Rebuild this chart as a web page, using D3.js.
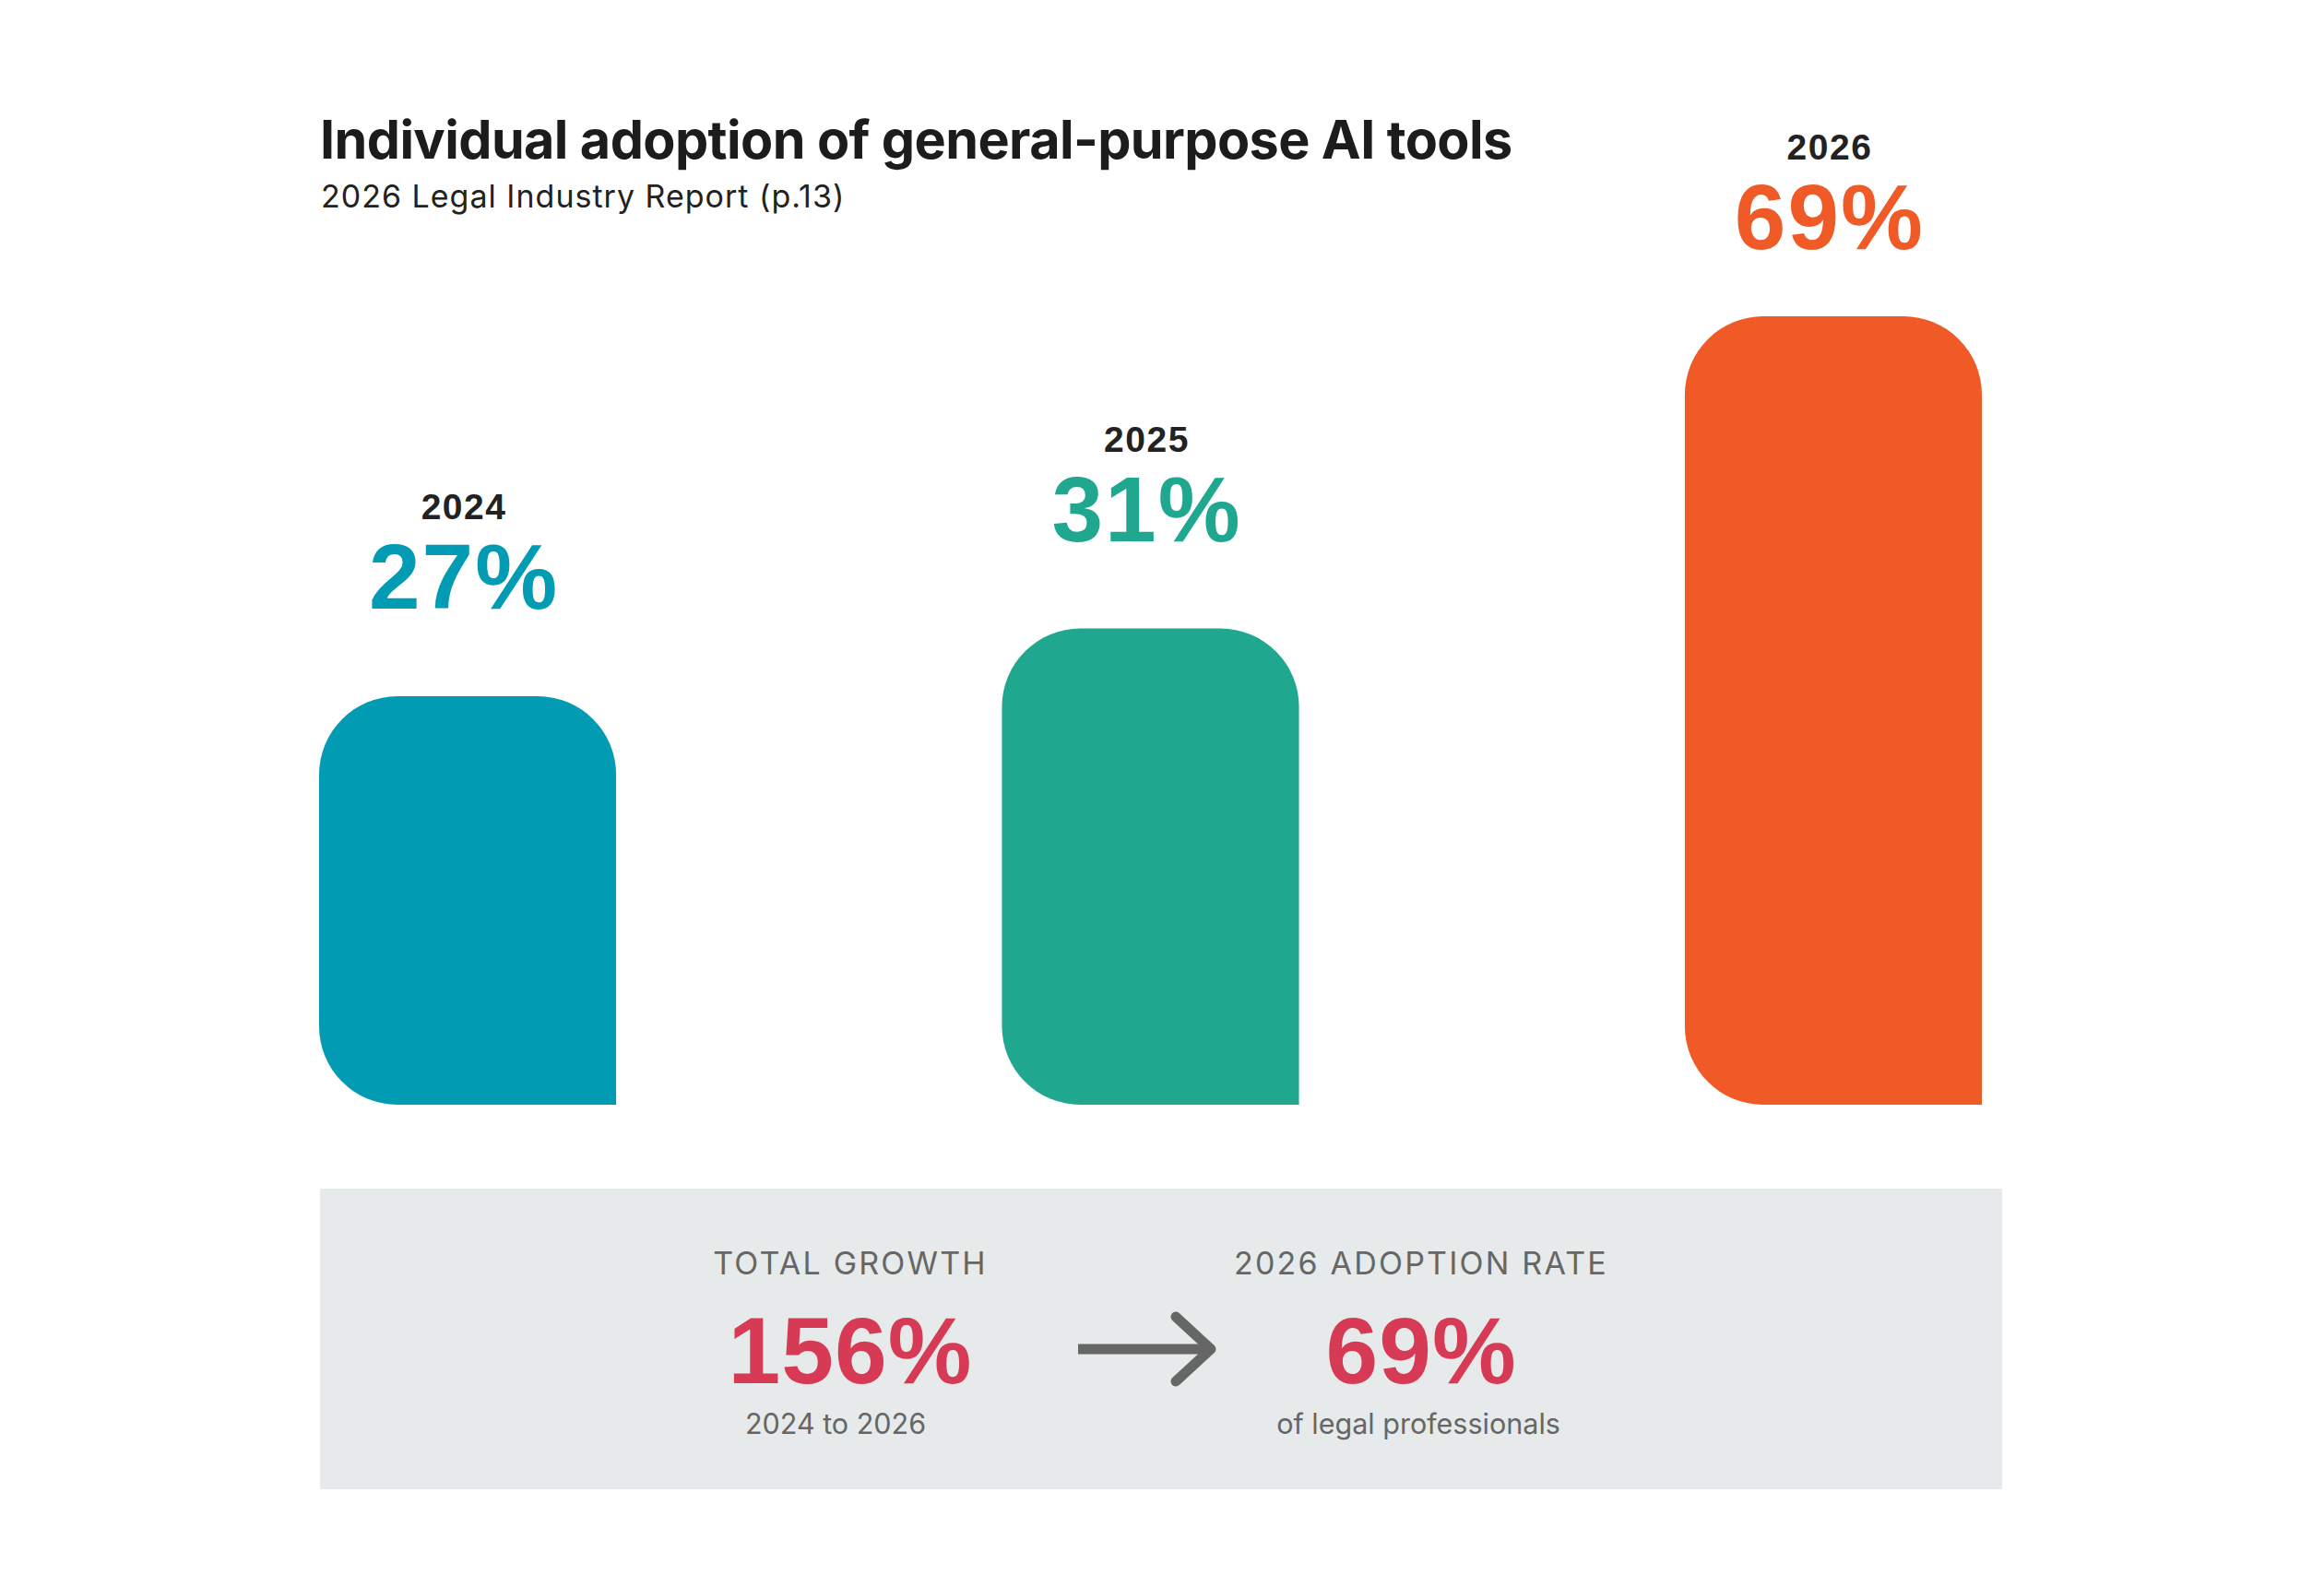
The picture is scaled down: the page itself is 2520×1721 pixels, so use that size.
<!DOCTYPE html>
<html>
<head>
<meta charset="utf-8">
<script src="https://cdn.jsdelivr.net/npm/d3@7"></script>
<style>
	body { margin: 0; background: #ffffff; }
	svg { display: block; }
</style>
</head>
<body>
<svg id="chart-svg"></svg>
<script>
// chart data
var years = ["2024", "2025", "2026"];
var adoption = [27, 31, 69];

// summary panel
var growthLabel = "TOTAL GROWTH";
var growthValue = 156;
var growthNote = "2024 to 2026";
var rateLabel = "2026 ADOPTION RATE";
var rateValue = 69;
var rateNote = "of legal professionals";

var titleText = "Individual adoption of general-purpose AI tools";
var subtitleText = "2026 Legal Industry Report (p.13)";

var WIDTH = 2520;
var HEIGHT = 1721;
var BASE_Y = 1198;
var RADIUS = 85;

var svg = d3.select("#chart-svg")
	.attr("width", WIDTH)
	.attr("height", HEIGHT);

svg.append("rect")
	.attr("width", WIDTH)
	.attr("height", HEIGHT)
	.attr("fill", "#ffffff");

var x = d3.scaleBand()
	.domain(years)
	.range([346, 2149])
	.paddingInner(0.565)
	.paddingOuter(0);

// bar heights are not linear in the original, a saturating pow fits them
var y = d3.scalePow()
	.exponent(-0.5)
	.domain(d3.extent(adoption))
	.range([755, 343]);

var color = d3.scaleOrdinal()
	.domain(years)
	.range(["#029bb4", "#1fa88f", "#f05a26"]);

// rounded on three corners, square at bottom right
function barPath(x0, y0, w, h, r) {
	var p = d3.path();
	p.moveTo(x0, y0 + r);
	p.arcTo(x0, y0, x0 + r, y0, r);
	p.lineTo(x0 + w - r, y0);
	p.arcTo(x0 + w, y0, x0 + w, y0 + r, r);
	p.lineTo(x0 + w, y0 + h);
	p.lineTo(x0 + r, y0 + h);
	p.arcTo(x0, y0 + h, x0, y0 + h - r, r);
	p.closePath();
	return p.toString();
}

var rows = years.map(function (yr, i) { return { year: yr, value: adoption[i] }; });

var g = svg.append("g");

g.selectAll(".bar")
	.data(rows)
	.enter().append("path")
	.attr("class", "bar")
	.attr("d", function (d) {
		var top = y(d.value);
		return barPath(x(d.year), top, x.bandwidth(), BASE_Y - top, RADIUS);
	})
	.attr("fill", function (d) { return color(d.year); });

function valueBaseline(d) {
	return Math.max(y(d.value) - 95, 270);
}

g.selectAll(".value-label")
	.data(rows)
	.enter().append("text")
	.attr("class", "value-label")
	.attr("x", function (d) { return x(d.year) + x.bandwidth() / 2 - 4; })
	.attr("y", valueBaseline)
	.attr("text-anchor", "middle")
	.style("font-family", "'Liberation Sans', Arial, sans-serif")
	.style("font-weight", 700)
	.style("font-size", "100px")
	.style("letter-spacing", "2px")
	.attr("fill", function (d) { return color(d.year); })
	.text(function (d) { return d.value + "%"; });

g.selectAll(".year-label")
	.data(rows)
	.enter().append("text")
	.attr("class", "year-label")
	.attr("x", function (d) { return x(d.year) + x.bandwidth() / 2 - 4; })
	.attr("y", function (d) { return valueBaseline(d) - 97; })
	.attr("text-anchor", "middle")
	.style("font-family", "'Liberation Sans', Arial, sans-serif")
	.style("font-weight", 700)
	.style("font-size", "39px")
	.style("letter-spacing", "1.5px")
	.attr("fill", "#222222")
	.text(function (d) { return d.year; });

// title
svg.append("text")
	.attr("x", 347)
	.attr("y", 172)
	.style("font-family", "Inter, 'Noto Sans', sans-serif")
	.style("font-weight", 700)
	.style("font-size", "57.5px")
	.style("letter-spacing", "-0.6px")
	.attr("fill", "#1c1c1c")
	.text(titleText);

svg.append("text")
	.attr("x", 348)
	.attr("y", 225)
	.style("font-family", "Inter, 'Noto Sans', sans-serif")
	.style("font-weight", 400)
	.style("font-size", "34px")
	.style("letter-spacing", "1px")
	.attr("fill", "#222222")
	.text(subtitleText);

// summary panel
var panel = svg.append("g");

panel.append("rect")
	.attr("x", 347)
	.attr("y", 1289)
	.attr("width", 1824)
	.attr("height", 326)
	.attr("fill", "#e6eaea");

var summary = [
	{ label: growthLabel, value: growthValue + "%", note: growthNote, cx: 922 },
	{ label: rateLabel, value: rateValue + "%", note: rateNote, cx: 1541 }
];

var blocks = panel.selectAll(".summary")
	.data(summary)
	.enter().append("g")
	.attr("class", "summary");

blocks.append("text")
	.attr("x", function (d) { return d.cx; })
	.attr("y", 1382)
	.attr("text-anchor", "middle")
	.style("font-family", "Inter, 'Noto Sans', sans-serif")
	.style("font-size", "34px")
	.style("letter-spacing", "2.2px")
	.attr("fill", "#666666")
	.text(function (d) { return d.label; });

blocks.append("text")
	.attr("x", function (d) { return d.cx; })
	.attr("y", 1500)
	.attr("text-anchor", "middle")
	.style("font-family", "'Liberation Sans', Arial, sans-serif")
	.style("font-weight", 700)
	.style("font-size", "102px")
	.style("letter-spacing", "1px")
	.attr("fill", "#d63a55")
	.text(function (d) { return d.value; });

blocks.append("text")
	.attr("x", function (d, i) { return d.cx + (i === 0 ? -16 : -3); })
	.attr("y", 1555)
	.attr("text-anchor", "middle")
	.style("font-family", "Inter, 'Noto Sans', sans-serif")
	.style("font-size", "30.5px")
	.attr("fill", "#666666")
	.text(function (d) { return d.note; });

// arrow between the two numbers
panel.append("line")
	.attr("x1", 1169)
	.attr("x2", 1310)
	.attr("y1", 1463)
	.attr("y2", 1463)
	.attr("stroke", "#666666")
	.attr("stroke-width", 11);

panel.append("path")
	.attr("d", "M1275,1428L1313,1463L1275,1498")
	.attr("fill", "none")
	.attr("stroke", "#666666")
	.attr("stroke-width", 11)
	.attr("stroke-linecap", "round")
	.attr("stroke-linejoin", "round");
</script>
</body>
</html>
